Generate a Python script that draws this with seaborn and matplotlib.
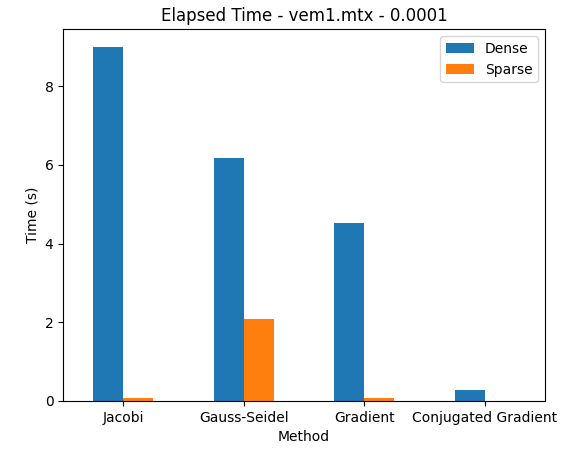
import pandas as pd
import matplotlib.pyplot as plt
import seaborn as sns

methods = ['Jacobi', 'Gauss-Seidel', 'Gradient', 'Conjugated Gradient']
dense = [9.0, 6.18, 4.52, 0.27]
sparse = [0.07, 2.08, 0.06, 0.005]

df = pd.DataFrame({
    'Method': methods * 2,
    'Time': dense + sparse,
    'Type': ['Dense'] * 4 + ['Sparse'] * 4,
})

fig, ax = plt.subplots(figsize=(5.64, 4.55), dpi=100)
sns.barplot(data=df, x='Method', y='Time', hue='Type', width=0.5,
            palette=['#1f77b4', '#ff7f0e'], saturation=1, ax=ax)
ax.set_title('Elapsed Time - vem1.mtx - 0.0001')
ax.set_xlabel('Method')
ax.set_ylabel('Time (s)')
ax.legend(title=None, loc='upper right')
fig.subplots_adjust(left=0.112, right=0.966, top=0.936, bottom=0.119)
plt.savefig('out.png')
